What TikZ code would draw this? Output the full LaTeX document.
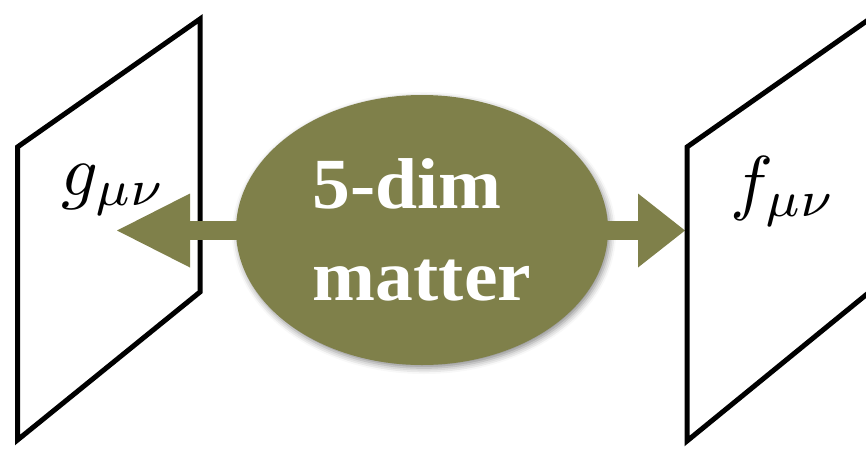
\documentclass[tikz,border=0pt]{standalone}
\usepackage{graphicx}
\usepackage{fontspec}
\setmainfont{Liberation Serif}
\newfontfamily\matterfont{Liberation Serif Bold}[FakeStretch=1.05]
\usetikzlibrary{arrows.meta,shapes.geometric,shadows.blur}
\definecolor{olive5}{RGB}{127,128,74}
\newcommand{\bigmath}[1]{\scalebox{7.2}{$#1$}}
\tikzset{
  plane/.style={draw=black,line width=5pt,line join=miter},
  matterblob/.style={ellipse,fill=olive5,inner sep=0pt,minimum width=372pt,minimum height=270pt,
    text=white,align=left,font=\fontsize{72}{92}\selectfont\matterfont,
    blur shadow={shadow xshift=2pt,shadow yshift=-3pt,shadow blur radius=6pt,shadow opacity=45}},
  fatarrow/.style={draw=olive5,line width=19pt},
  metric/.style={inner sep=0pt,anchor=base west}
}
\begin{document}
\begin{tikzpicture}[x=1pt,y=-1pt]
\useasboundingbox (0,0) rectangle (866,450);
\begin{scope}
\clip (0,0) rectangle (866,450);
% left plane
\draw[plane] (17.5,147) -- (200,19) -- (200,292) -- (17.5,440) -- cycle;
\node[metric] (g) at (61,195) {\bigmath{g_{\mu\nu}}};
% ellipse
\node[matterblob] (m) at (422,230) {5-dim\\matter};
\coordinate (gtip) at (117,230.5);
\coordinate (ftip) at (685,230.5);
\draw[fatarrow,-{Triangle[length=73pt,width=74pt,line width=0pt]},shorten <=-6pt] ([yshift=-0.5pt]m.west) -- (gtip);
\draw[fatarrow,-{Triangle[length=47pt,width=74pt,line width=0pt]},shorten <=-6pt] ([yshift=-0.5pt]m.east) -- (ftip);
% right plane
\draw[plane] (687,147) -- (869.5,19) -- (869.5,292) -- (687,441) -- cycle;
\node[metric] (f) at (730,206) {\bigmath{f_{\mu\nu}}};
\end{scope}
\end{tikzpicture}
\end{document}
